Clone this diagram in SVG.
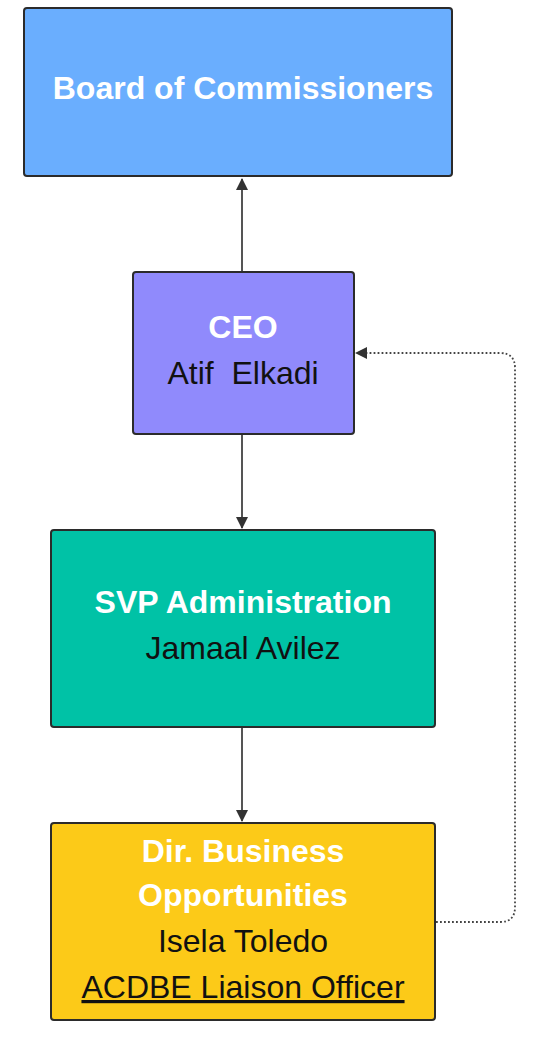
<svg xmlns="http://www.w3.org/2000/svg" width="533" height="1038" viewBox="0 0 533 1038">
<style>
.box{stroke:#2b2b2b;stroke-width:2}
.t{font-family:"Liberation Sans",Arial,sans-serif;font-size:32px;text-anchor:middle}
.w{fill:#ffffff;font-weight:bold}
.b{fill:#111111}
.conn{stroke:#555555;stroke-width:2;fill:none}
.dot{stroke:#444444;stroke-width:1.8;fill:none;stroke-dasharray:1.8 2.2}
</style>
<defs>
<marker id="ah" viewBox="0 0 12 12" refX="11" refY="6" markerWidth="12" markerHeight="12" markerUnits="userSpaceOnUse" orient="auto">
<path d="M0,0 L12,6 L0,12 Z" fill="#333333"/>
</marker>
</defs>
<rect width="533" height="1038" fill="#ffffff"/>
<g id="connectors">
<path class="conn" d="M242,271 L242,179" marker-end="url(#ah)"/>
<path class="conn" d="M242,435 L242,528" marker-end="url(#ah)"/>
<path class="conn" d="M242,728 L242,821" marker-end="url(#ah)"/>
<path class="dot" d="M436,922 L500,922 Q515,922 515,907 L515,368 Q515,353 500,353 L356,353" marker-end="url(#ah)"/>
</g>
<g id="board">
<rect class="box" x="24" y="8" width="428" height="168" rx="3" fill="#6aaefe"/>
<text class="t w" x="243" y="99">Board of Commissioners</text>
</g>
<g id="ceo">
<rect class="box" x="133" y="272" width="221" height="162" rx="3" fill="#908afc"/>
<text class="t w" x="243" y="338">CEO</text>
<text class="t b" x="243" y="384" xml:space="preserve">Atif  Elkadi</text>
</g>
<g id="svp">
<rect class="box" x="51" y="530" width="384" height="197" rx="3" fill="#00c2a6"/>
<text class="t w" x="243" y="613">SVP Administration</text>
<text class="t b" x="243" y="659">Jamaal Avilez</text>
</g>
<g id="dir">
<rect class="box" x="51" y="823" width="384" height="197" rx="3" fill="#fcca18"/>
<text class="t w" x="243" y="862">Dir. Business</text>
<text class="t w" x="243" y="906">Opportunities</text>
<text class="t b" x="243" y="952">Isela Toledo</text>
<text class="t b" x="243" y="998" text-decoration="underline">ACDBE Liaison Officer</text>
</g>
</svg>
